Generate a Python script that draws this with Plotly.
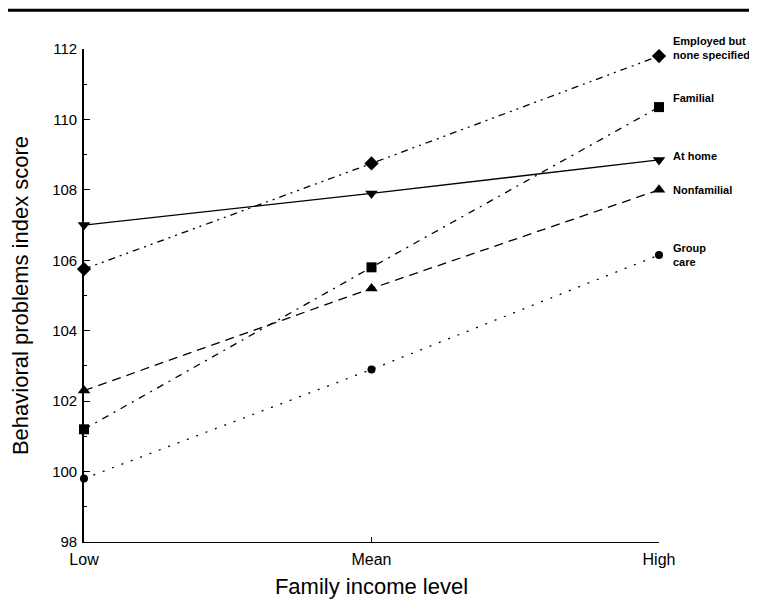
import plotly.graph_objects as go

income_levels = ["Low", "Mean", "High"]

employed_none = [105.75, 108.75, 111.8]
familial = [101.2, 105.8, 110.35]
at_home = [107.0, 107.9, 108.85]
nonfamilial = [102.3, 105.2, 108.0]
group_care = [99.8, 102.9, 106.15]

series_names = ["Employed but<br>none specified", "Familial", "At home", "Nonfamilial", "Group<br>care"]
y_ticks = [98, 100, 102, 104, 106, 108, 110, 112]

# page body has an 8px margin, so the figure is sized to fit the 757x607 window
W, H = 749, 599
ML, MR, MT, MB = 76, 98, 41, 57

styles = [
    (employed_none, "diamond", 11, "7px,5px,2px,5px,2px,5px"),
    (familial, "square", 10, "7px,6px,2px,6px"),
    (at_home, "triangle-down", 11, "solid"),
    (nonfamilial, "triangle-up", 11, "9px,6px"),
    (group_care, "circle", 8, "2px,8px"),
]

fig = go.Figure()
for (vals, sym, msize, dash), name in zip(styles, series_names):
    fig.add_trace(go.Scatter(
        x=income_levels, y=vals, mode="lines+markers", name=name,
        line=dict(color="black", width=1.3, dash=dash),
        marker=dict(symbol=sym, size=msize, color="black"),
        cliponaxis=False, showlegend=False,
    ))

label_shift = [8, 9, 4, 0, 0]
for (vals, _, _, _), name, ys in zip(styles, series_names, label_shift):
    fig.add_annotation(
        x=income_levels[-1], y=vals[-1], text="<b>" + name + "</b>",
        xanchor="left", yanchor="middle", xshift=12, yshift=ys,
        showarrow=False, align="left",
        font=dict(family="Liberation Sans, Arial", size=11, color="black"),
    )

pw = W - ML - MR
ph = H - MT - MB
fig.add_shape(type="line", xref="paper", yref="paper",
              x0=-ML / pw, x1=(W - ML) / pw,
              y0=1 + (MT - 1.5) / ph, y1=1 + (MT - 1.5) / ph,
              line=dict(color="black", width=3))

fig.update_layout(
    width=W, height=H,
    margin=dict(l=ML, r=MR, t=MT, b=MB),
    paper_bgcolor="white", plot_bgcolor="white",
    font=dict(family="Liberation Sans, Arial", color="black"),
    xaxis=dict(
        type="category", range=[0, 2], showgrid=False, zeroline=False,
        showline=True, linecolor="black", linewidth=1,
        ticks="inside", ticklen=5, tickcolor="black",
        tickfont=dict(size=16), ticklabelstandoff=3,
        title=dict(text="Family income level", font=dict(size=22), standoff=11),
    ),
    yaxis=dict(
        range=[98, 112], tickvals=y_ticks, showgrid=False, zeroline=False,
        showline=True, linecolor="black", linewidth=1.6,
        ticks="inside", ticklen=6, tickcolor="black",
        tickfont=dict(size=15), ticklabelstandoff=2,
        minor=dict(ticks="inside", dtick=1, ticklen=3, tickcolor="black"),
        title=dict(text="Behavioral problems index score", font=dict(size=22), standoff=17),
    ),
)

fig.write_html("out.html")
